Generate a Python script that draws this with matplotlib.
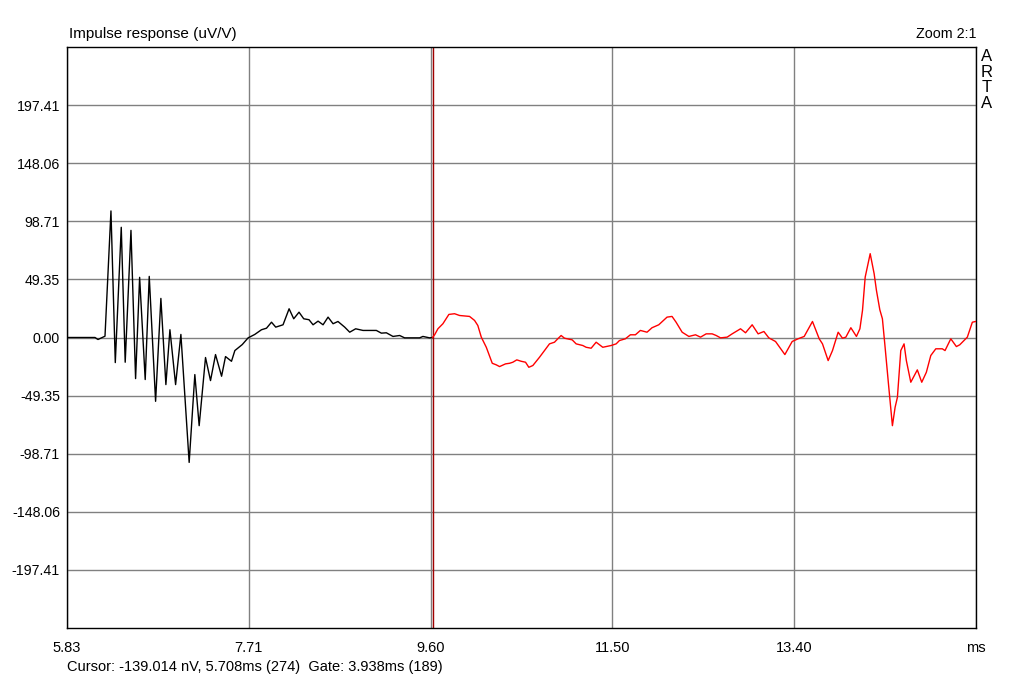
import numpy as np
import matplotlib
matplotlib.use('Agg')
import matplotlib.pyplot as plt

plt.rcParams['font.family'] = ['Liberation Sans', 'DejaVu Sans']

# impulse response, before the gate marker (black)
t_black = [5.830, 6.121, 6.152, 6.225, 6.287, 6.332, 6.394, 6.435, 6.495, 6.543,
           6.585, 6.643, 6.685, 6.751, 6.806, 6.858, 6.900, 6.959, 7.014, 7.100,
           7.159, 7.204, 7.270, 7.322, 7.374, 7.437, 7.478, 7.540, 7.575, 7.652,
           7.713, 7.782, 7.852, 7.904, 7.956, 8.000, 8.076, 8.139, 8.187, 8.242,
           8.291, 8.346, 8.388, 8.440, 8.492, 8.544, 8.596, 8.647, 8.717, 8.769,
           8.831, 8.907, 9.046, 9.098, 9.150, 9.219, 9.288, 9.340, 9.496, 9.530,
           9.600, 9.631]
v_black = [0.0, 0.0, -1.7, 1.1, 107.5, -21.3, 93.6, -21.0, 91.0, -34.9,
           51.1, -35.7, 51.9, -54.2, 33.2, -40.0, 6.6, -40.0, 2.6, -106.1,
           -31.5, -74.9, -17.0, -36.6, -14.5, -32.9, -16.2, -20.2, -11.1, -6.0,
           -0.3, 2.6, 6.6, 7.9, 13.0, 8.8, 10.8, 24.4, 15.9, 21.5,
           15.9, 15.1, 10.8, 13.9, 10.8, 17.3, 11.7, 13.6, 8.8, 4.5,
           7.4, 6.0, 6.0, 3.7, 4.0, 0.9, 1.7, -0.3, -0.3, 0.9,
           -0.3, 0.0]

# impulse response, after the gate marker (red)
t_red = [9.631, 9.652, 9.686, 9.738, 9.800, 9.859, 9.911, 10.015, 10.067, 10.101,
         10.137, 10.189, 10.251, 10.292, 10.327, 10.389, 10.431, 10.465, 10.506, 10.552,
         10.597, 10.631, 10.673, 10.742, 10.794, 10.846, 10.898, 10.932, 10.967, 11.002,
         11.082, 11.123, 11.192, 11.227, 11.279, 11.331, 11.400, 11.487, 11.539, 11.573,
         11.635, 11.687, 11.739, 11.791, 11.860, 11.912, 11.982, 12.068, 12.120, 12.162,
         12.225, 12.295, 12.364, 12.416, 12.475, 12.537, 12.579, 12.624, 12.693, 12.745,
         12.832, 12.884, 12.953, 13.015, 13.075, 13.126, 13.196, 13.293, 13.369, 13.430,
         13.494, 13.580, 13.650, 13.684, 13.743, 13.788, 13.847, 13.892, 13.927, 13.979,
         14.037, 14.073, 14.100, 14.128, 14.180, 14.221, 14.245, 14.280, 14.307, 14.335,
         14.370, 14.411, 14.439, 14.463, 14.498, 14.532, 14.556, 14.602, 14.670, 14.716,
         14.764, 14.810, 14.862, 14.930, 14.958, 15.018, 15.076, 15.111, 15.190, 15.242,
         15.277]
v_red = [0.0, 2.3, 7.4, 11.7, 19.6, 20.2, 18.7, 17.9, 14.5, 10.2,
         0.3, -8.3, -21.9, -23.2, -24.7, -22.4, -21.9, -21.0, -19.0, -20.2,
         -21.0, -25.3, -23.8, -16.8, -11.1, -5.4, -4.0, -1.1, 1.7, -0.6,
         -2.0, -5.4, -6.8, -8.3, -9.1, -4.0, -8.3, -6.8, -5.4, -2.6,
         -1.1, 2.3, 2.3, 6.0, 4.5, 8.3, 10.8, 17.3, 17.9, 13.0,
         4.5, 0.9, 2.3, 0.3, 3.1, 3.1, 1.7, -0.3, 0.3, 3.1,
         7.4, 4.0, 10.8, 3.1, 5.1, -0.3, -3.4, -14.5, -3.4, -1.1,
         0.9, 13.6, -1.1, -5.4, -19.6, -11.1, 4.5, -0.6, 0.3, 8.3,
         0.9, 7.4, 23.0, 51.3, 71.2, 54.2, 40.0, 23.6, 15.9, -8.3,
         -39.4, -74.9, -59.3, -50.8, -11.1, -5.4, -19.6, -38.0, -27.5, -38.0,
         -29.5, -15.3, -9.6, -9.6, -11.1, -1.1, -7.7, -6.2, 0.3, 13.0,
         13.6]

x_ticks = [5.83, 7.72, 9.61, 11.50, 13.39, 15.28]
x_labels = ['5.83', '7.71', '9.60', '11.50', '13.40', 'ms']
y_ticks = [-197.41, -148.06, -98.71, -49.35, 0.0, 49.35, 98.71, 148.06, 197.41]
y_labels = ['-197.41', '-148.06', '-98.71', '-49.35', '0.00', '49.35', '98.71', '148.06', '197.41']
gate_ms = 9.64

fig = plt.figure(figsize=(10.24, 6.8), dpi=100)
ax = fig.add_axes([67 / 1024, 52 / 680, 909 / 1024, 581 / 680])

ax.set_xlim(5.83, 15.28)
ax.set_ylim(-246.76, 246.76)
ax.set_xticks(x_ticks)
ax.set_xticklabels(x_labels, fontsize=10.5)
ax.set_yticks(y_ticks)
ax.set_yticklabels(y_labels, fontsize=10.2)
ax.tick_params(axis='x', length=0, pad=9)
ax.tick_params(axis='y', length=0, pad=5)

ax.grid(True, color='#808080', linewidth=1)
ax.set_axisbelow(True)
for s in ax.spines.values():
    s.set_color('black')
    s.set_linewidth(1)

ax.axvline(gate_ms, color='#a00000', linewidth=1, zorder=2)
ax.plot(t_black, v_black, color='black', linewidth=1, zorder=3)
ax.plot(t_red, v_red, color='#ff0000', linewidth=1, zorder=3)

fig.text(69 / 1024, 1 - 34 / 680, 'Impulse response (uV/V)', fontsize=11, va='center', ha='left')
fig.text(976 / 1024, 1 - 34 / 680, 'Zoom 2:1', fontsize=10.3, va='center', ha='right')
fig.text(987 / 1024, 1 - 80 / 680, 'A\nR\nT\nA', fontsize=12, va='center', ha='center',
         linespacing=1.08)
fig.text(67 / 1024, 1 - 667 / 680, 'Cursor: -139.014 nV, 5.708ms (274)  Gate: 3.938ms (189)',
         fontsize=10.5, va='center', ha='left')

fig.savefig('out.png', dpi=100)
